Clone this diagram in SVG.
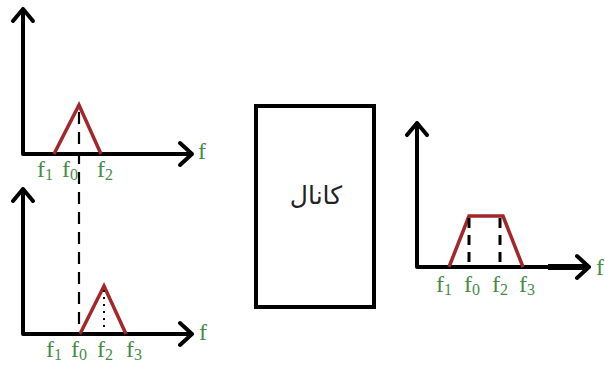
<svg xmlns="http://www.w3.org/2000/svg" width="605" height="373" viewBox="0 0 605 373">
<style>
.ax{fill:none;stroke:#000;stroke-width:4;stroke-linecap:round;stroke-linejoin:round}
.sig{fill:none;stroke:#a3262a;stroke-width:3.5;stroke-linejoin:miter}
.dash{fill:none;stroke:#000;stroke-width:2.2;stroke-dasharray:12,8}
.lbl{font-family:"Liberation Serif",serif;font-size:24px;fill:#468c46}
.sub{font-size:16px}
.ar{font-family:"DejaVu Sans",sans-serif;font-size:25px;fill:#222}
</style>
<g id="connectors">
<line class="dash" x1="79" y1="112" x2="79" y2="334"/>
</g>
<g id="plot-top">
<path class="ax" d="M23 154V9M13 21L23 9L33 21M23 154H192M180 143L192 154L180 165"/>
<path class="sig" d="M54 154L79 105L101 154"/>
<text class="lbl" x="37" y="177">f<tspan class="sub" dy="3">1</tspan></text>
<text class="lbl" x="62" y="177">f<tspan class="sub" dy="3">0</tspan></text>
<text class="lbl" x="97" y="177">f<tspan class="sub" dy="3">2</tspan></text>
<text class="lbl" x="198" y="159">f</text>
</g>
<g id="plot-bottom">
<path class="ax" d="M23 334V189M13 201L23 189L33 201M23 334H192M180 323L192 334L180 345"/>
<path class="sig" d="M80 334L104 286L126 334"/>
<line x1="104" y1="290" x2="104" y2="334" stroke="#000" stroke-width="2" stroke-dasharray="2,5"/>
<text class="lbl" x="46" y="357">f<tspan class="sub" dy="3">1</tspan></text>
<text class="lbl" x="71" y="357">f<tspan class="sub" dy="3">0</tspan></text>
<text class="lbl" x="97" y="357">f<tspan class="sub" dy="3">2</tspan></text>
<text class="lbl" x="126" y="357">f<tspan class="sub" dy="3">3</tspan></text>
<text class="lbl" x="199" y="340">f</text>
</g>
<g id="channel">
<rect x="256" y="106" width="118" height="201" fill="#fff" stroke="#000" stroke-width="4"/>
<text class="ar" x="316" y="204" text-anchor="middle" direction="rtl">كانال</text>
</g>
<g id="plot-right">
<path class="ax" d="M417 267V123M407 135L417 123L427 135M417 267H589M577 256L589 267L577 278"/>
<line x1="548" y1="267" x2="585" y2="267" stroke="#000" stroke-width="6"/>
<path class="sig" d="M449 267L469 216H503L523 267"/>
<line x1="469" y1="218" x2="469" y2="267" stroke="#000" stroke-width="3" stroke-dasharray="10,7"/>
<line x1="500" y1="218" x2="500" y2="267" stroke="#000" stroke-width="3" stroke-dasharray="10,7"/>
<text class="lbl" x="436" y="292">f<tspan class="sub" dy="3">1</tspan></text>
<text class="lbl" x="464" y="292">f<tspan class="sub" dy="3">0</tspan></text>
<text class="lbl" x="492" y="292">f<tspan class="sub" dy="3">2</tspan></text>
<text class="lbl" x="519" y="292">f<tspan class="sub" dy="3">3</tspan></text>
<text class="lbl" x="596" y="275">f</text>
</g>
</svg>
